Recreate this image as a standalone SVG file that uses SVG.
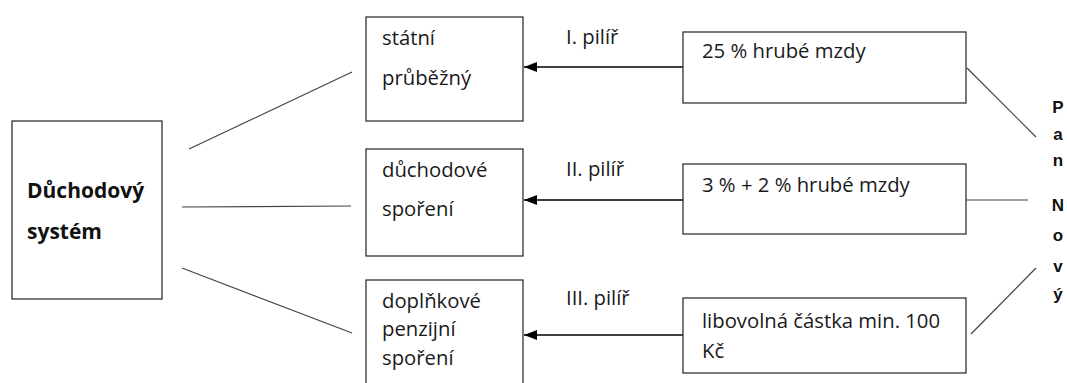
<svg xmlns="http://www.w3.org/2000/svg" width="1067" height="383" viewBox="0 0 1067 383">
<defs>
<marker id="ah" markerWidth="13" markerHeight="10" refX="13" refY="5" orient="auto" markerUnits="userSpaceOnUse">
<path d="M0,0 L13,5 L0,10 Z" fill="#000"/>
</marker>
<style>
.box{fill:#fff;stroke:#333;stroke-width:1.3}
.t{font-family:"Open Sans","Liberation Sans",sans-serif;font-size:20.3px;fill:#1a1a1a}
.b{font-family:"Open Sans","Liberation Sans",sans-serif;font-size:21px;font-weight:bold;fill:#111}
.v{font-family:"Liberation Sans",Arial,sans-serif;font-size:17px;font-weight:bold;fill:#111;text-anchor:middle}
.ln{stroke:#444;stroke-width:1.2;fill:none}
.ar{stroke:#000;stroke-width:1.5;fill:none}
</style>
</defs>
<rect width="1067" height="383" fill="#fff"/>
<g id="connectors">
<line class="ln" x1="189" y1="149" x2="352" y2="72"/>
<line class="ln" x1="182" y1="207" x2="351" y2="206"/>
<line class="ln" x1="182" y1="268" x2="352" y2="333"/>
<line class="ar" x1="683" y1="67" x2="524" y2="67" marker-end="url(#ah)"/>
<line class="ar" x1="683" y1="200" x2="524" y2="200" marker-end="url(#ah)"/>
<line class="ar" x1="683" y1="335" x2="524" y2="335" marker-end="url(#ah)"/>
<line class="ln" x1="967" y1="68" x2="1036" y2="137"/>
<line class="ln" x1="966" y1="200" x2="1028" y2="200"/>
<line class="ln" x1="1036" y1="268" x2="971" y2="334"/>
</g>
<g id="node-system">
<rect class="box" x="12" y="121" width="150" height="178"/>
<text class="b" x="27" y="198">Důchodový</text>
<text class="b" x="27" y="239">systém</text>
</g>
<g id="node-statni">
<rect class="box" x="366" y="17" width="157" height="104"/>
<text class="t" x="382" y="45">státní</text>
<text class="t" x="382" y="85">průběžný</text>
</g>
<g id="node-duchodove">
<rect class="box" x="366" y="149" width="157" height="107"/>
<text class="t" x="382" y="177">důchodové</text>
<text class="t" x="382" y="216">spoření</text>
</g>
<g id="node-doplnkove">
<rect class="box" x="366" y="280" width="157" height="110"/>
<text class="t" x="382" y="308">doplňkové</text>
<text class="t" x="382" y="336">penzijní</text>
<text class="t" x="382" y="365">spoření</text>
</g>
<g id="labels">
<text class="t" x="566" y="44">I. pilíř</text>
<text class="t" x="566" y="176">II. pilíř</text>
<text class="t" x="566" y="305">III. pilíř</text>
</g>
<g id="node-25">
<rect class="box" x="683" y="32" width="283" height="71"/>
<text class="t" x="702" y="58">25 % hrubé  mzdy</text>
</g>
<g id="node-3-2">
<rect class="box" x="683" y="164" width="283" height="70"/>
<text class="t" x="702" y="192">3 % + 2 % hrubé mzdy</text>
</g>
<g id="node-libovolna">
<rect class="box" x="683" y="298" width="283" height="75"/>
<text class="t" x="702" y="328">libovolná částka min. 100</text>
<text class="t" x="702" y="358">Kč</text>
</g>
<g id="node-pan-novy">
<text class="v" x="1058" y="113">P</text>
<text class="v" x="1058" y="140">a</text>
<text class="v" x="1058" y="166">n</text>
<text class="v" x="1058" y="211">N</text>
<text class="v" x="1058" y="241">o</text>
<text class="v" x="1058" y="272">v</text>
<text class="v" x="1058" y="300">ý</text>
</g>
</svg>
